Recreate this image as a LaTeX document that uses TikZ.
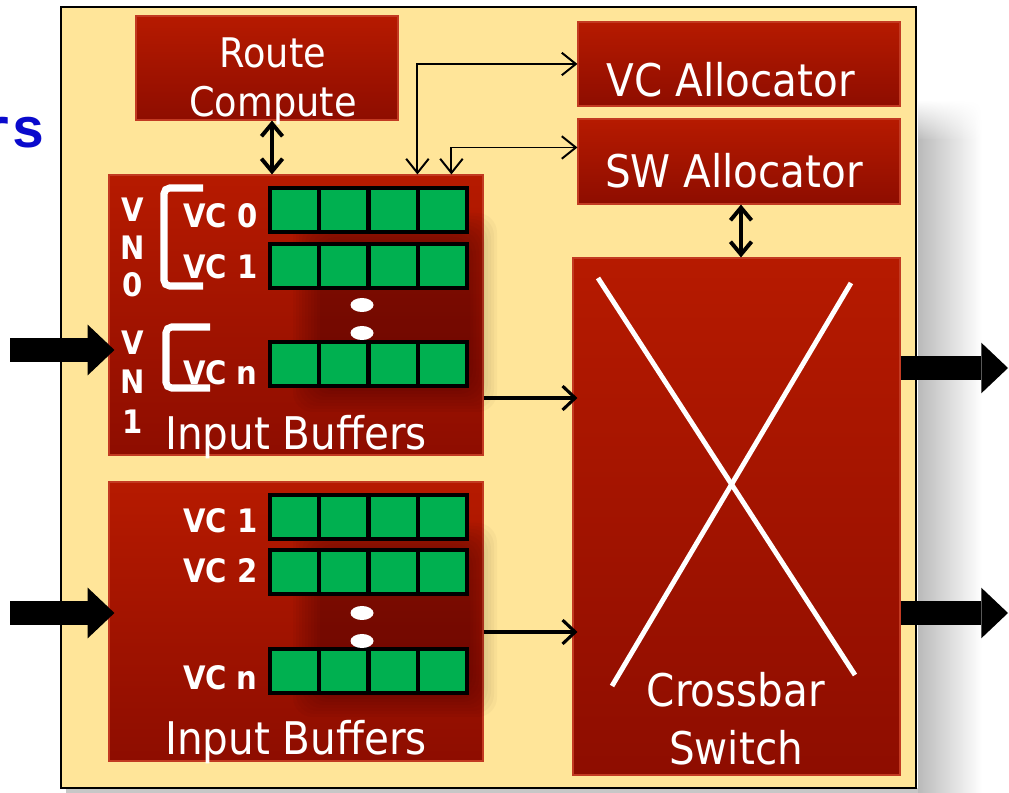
\documentclass[tikz,border=0pt]{standalone}
\usepackage{fontspec}
\setmainfont{DejaVu Sans Condensed}
\newfontfamily\codefont{Liberation Mono}
\usetikzlibrary{arrows.meta, positioning, calc, shapes.geometric, fadings}
\definecolor{cred}{HTML}{B61A00}
\definecolor{cdark}{HTML}{8E0D00}
\definecolor{cedge}{HTML}{C23A22}
\definecolor{cyellow}{HTML}{FFE599}
\definecolor{cgreen}{HTML}{00B050}
\definecolor{cblue}{HTML}{0A0ACC}
\newcommand{\pxu}{0.025cm}
\tikzset{
  every picture/.style={x=0.025cm, y=-0.025cm},
  block/.style={draw=cedge, line width=0.8pt, top color=cred, bottom color=cdark, inner sep=0pt},
  title/.style={text=white, inner sep=0pt, align=center, font=\fontsize{32}{41}\selectfont},
  cell/.style={draw=black, fill=cgreen, line width=3pt, minimum width=49.25*\pxu, minimum height=44*\pxu, inner sep=0pt},
  vclab/.style={text=white, anchor=east, inner sep=0pt, font=\bfseries\fontsize{23}{23}\selectfont},
  vnlab/.style={text=white, inner sep=0pt, font=\bfseries\fontsize{23}{23}\selectfont},
  bracket/.style={draw=white, line width=5pt, rounded corners=4pt},
  dot/.style={ellipse, fill=white, minimum width=23*\pxu, minimum height=14*\pxu, inner sep=0pt},
  xline/.style={draw=white, line width=3.5pt},
  haze/.style={fill=black, opacity=0.028, rounded corners=14pt},
  dbl/.style={draw=black, line width=2.8pt, >={Straight Barb[length=9pt,width=15pt]}, <->},
  link/.style={draw=black, line width=1.4pt, >={Straight Barb[length=10pt,width=16pt]}, <->},
  feed/.style={draw=black, line width=2.2pt, >={Straight Barb[length=9pt,width=17pt]}, ->},
  flit/.style={draw=black, line width=17pt, -{Triangle[length=19pt,width=36pt,line width=0pt]}},
}

\begin{document}
\begin{tikzpicture}
  \useasboundingbox (0,0) rectangle (1009,793);
  % cut-off heading on the left
  \node[font=\codefont\bfseries\fontsize{40}{40}\selectfont, text=cblue, anchor=base east, inner sep=0pt] (head) at (46,148) {rs};
  % router frame and its shadow
  \shade[left color=black!27, right color=white] (918,140) rectangle (982,793);
  \shade[left color=black!27, right color=white, path fading=north] (918,100) rectangle (982,140);
  \fill[black!22] (66,788) rectangle (918,793);
  \node[draw=black, fill=cyellow, line width=1.4pt, minimum width=855*\pxu, minimum height=781*\pxu, inner sep=0pt] (frame) at (488.5,397.5) {};
  % pipeline blocks
  \node[block, minimum width=262*\pxu, minimum height=104*\pxu] (route) at (267,68) {};
  \node[block, minimum width=322*\pxu, minimum height=84*\pxu] (vcalloc) at (739,64) {};
  \node[block, minimum width=322*\pxu, minimum height=85*\pxu] (swalloc) at (739,161.5) {};
  \node[block, minimum width=327*\pxu, minimum height=517*\pxu] (xbar) at (736.5,516.5) {};
  \node[block, minimum width=374*\pxu, minimum height=280*\pxu] (ibuf1) at (296,315) {};
  \node[block, minimum width=374*\pxu, minimum height=279*\pxu] (ibuf2) at (296,621.5) {};
  % soft shadow behind the buffer rows
  \foreach \d in {0,3,...,27} {
    \fill[haze] (320-\d,240-\d) rectangle (470+\d,385+\d);
    \fill[haze] (320-\d,550-\d) rectangle (470+\d,690+\d);
  }
  % block titles
  \node[title, font=\fontsize{29}{35}\selectfont] (routelab) at (273,81) {Route\\Compute};
  \node[title, anchor=base] (vclab) at (731,97) {VC Allocator};
  \node[title, anchor=base] (swlab) at (734,188) {SW Allocator};
  \node[title] (xbarlab) at (736,719) {Crossbar\\Switch};
  \node[title, anchor=base] (ib1lab) at (296,450) {Input Buffers};
  \node[title, anchor=base] (ib2lab) at (296,755) {Input Buffers};
  % crossbar
  \draw[xline] (598,278) -- (855,675);
  \draw[xline] (851,283) -- (612,686);
  % buffer slots, four per virtual channel
  \foreach \r/\y in {a/210, b/266, c/364, d/517, e/572, f/671}
    \foreach \c in {0,...,3}
      \node[cell] (slot\r\c) at (294.6+49.25*\c,\y) {};
  % channel and network labels
  \foreach \t/\y [count=\i] in {VC 0/216, VC 1/267, VC n/373, VC 1/521, VC 2/571, VC n/678}
    \node[vclab] (vc\i) at (258,\y) {\t};
  \foreach \t/\y [count=\i] in {V/210, N/248, 0/285, V/343, N/382, 1/422}
    \node[vnlab] (vn\i) at (133,\y) {\t};
  \draw[bracket] (203,188) -- (164,188) -- (164,286) -- (203,286);
  \draw[bracket] (210,327) -- (166,327) -- (166,388) -- (210,388);
  \foreach \y [count=\i] in {305,333,613,641}
    \node[dot] (dot\i) at (362,\y) {};
  % control paths
  \draw[dbl] ($(route.south)+(5,0)$) coordinate (rc) -- (rc |- ibuf1.north);
  \draw[dbl] ($(swalloc.south)+(2,0)$) coordinate (sa) -- (sa |- xbar.north);
  \draw[link] ($(ibuf1.north west)+(309,0)$) |- (vcalloc.west);
  \draw[link] ($(ibuf1.north west)+(343,0)$) |- ($(swalloc.west)+(0,-14)$);
  % data paths
  \draw[feed] ($(ibuf1.east)+(0,83)$) coordinate (f1) -- ($(f1 -| xbar.west)+(5,0)$);
  \draw[feed] ($(ibuf2.east)+(0,10.5)$) coordinate (f2) -- ($(f2 -| xbar.west)+(5,0)$);
  \coordinate (in1) at (10,350);
  \coordinate (in2) at (10,613);
  \coordinate (out1) at (1008,368);
  \coordinate (out2) at (1008,613);
  \draw[flit] (in1) -- ($(in1 -| ibuf1.west)+(6,0)$);
  \draw[flit] (in2) -- ($(in2 -| ibuf2.west)+(6,0)$);
  \draw[flit] (out1 -| xbar.east) -- (out1);
  \draw[flit] (out2 -| xbar.east) -- (out2);
\end{tikzpicture}
\end{document}
